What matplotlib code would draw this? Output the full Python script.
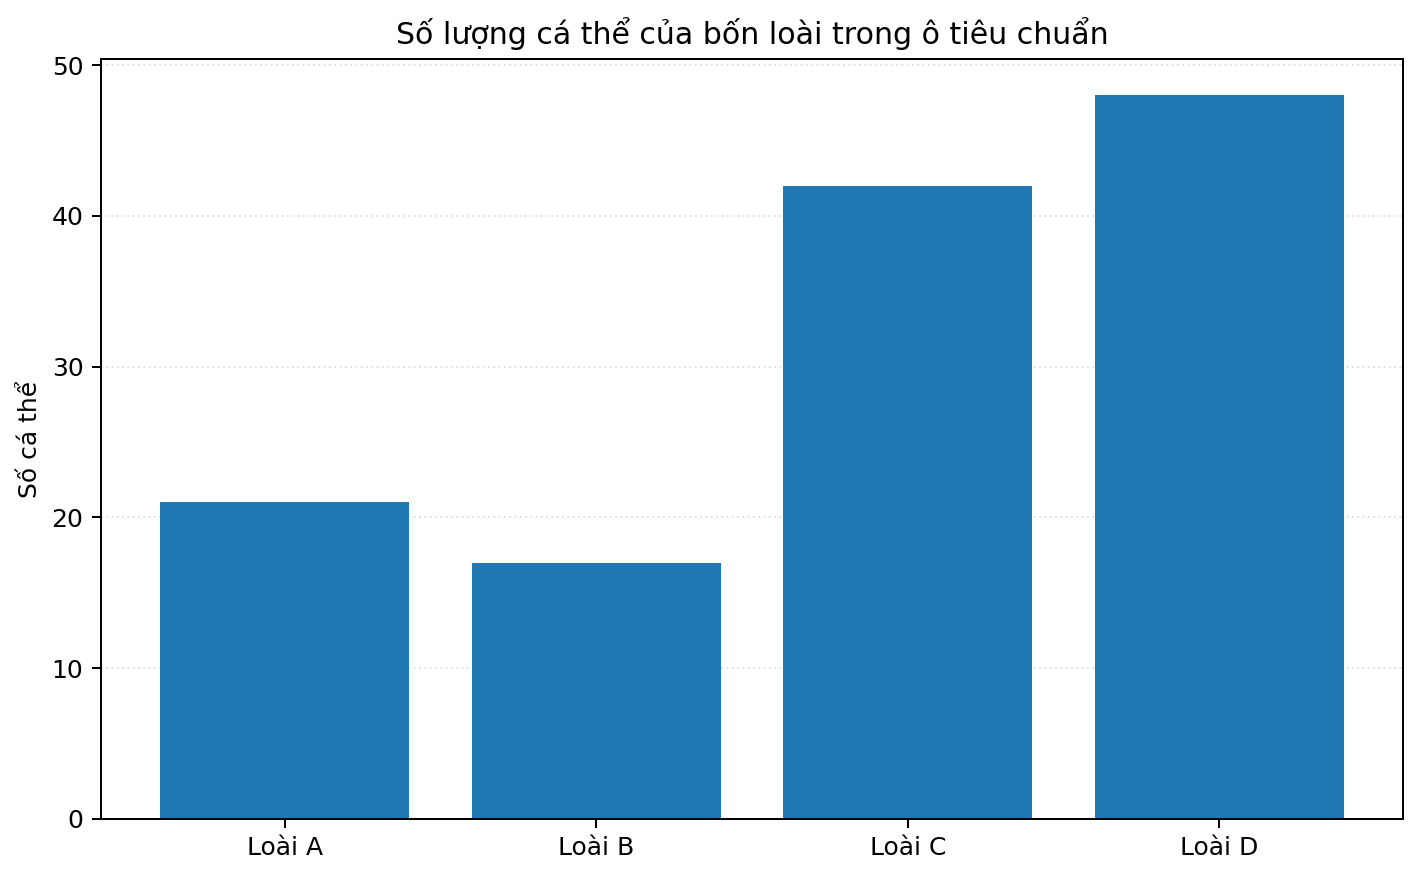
import matplotlib.pyplot as plt

# Du lieu
species = ['Loài A', 'Loài B', 'Loài C', 'Loài D']
counts = [21, 17, 42, 48]

fig, ax = plt.subplots(figsize=(1420 / 180, 878 / 180), dpi=180)

ax.bar(species, counts, color='#1f77b4', width=0.8)

ax.set_title('Số lượng cá thể của bốn loài trong ô tiêu chuẩn')
ax.set_ylabel('Số cá thể')
ax.set_ylim(0, max(counts) * 1.05)

ax.grid(True, axis='y', linestyle=':', alpha=0.35)
ax.set_axisbelow(True)

fig.subplots_adjust(left=0.0711, right=0.988, top=0.9328, bottom=0.0672)
fig.savefig('out.png', dpi=180)
